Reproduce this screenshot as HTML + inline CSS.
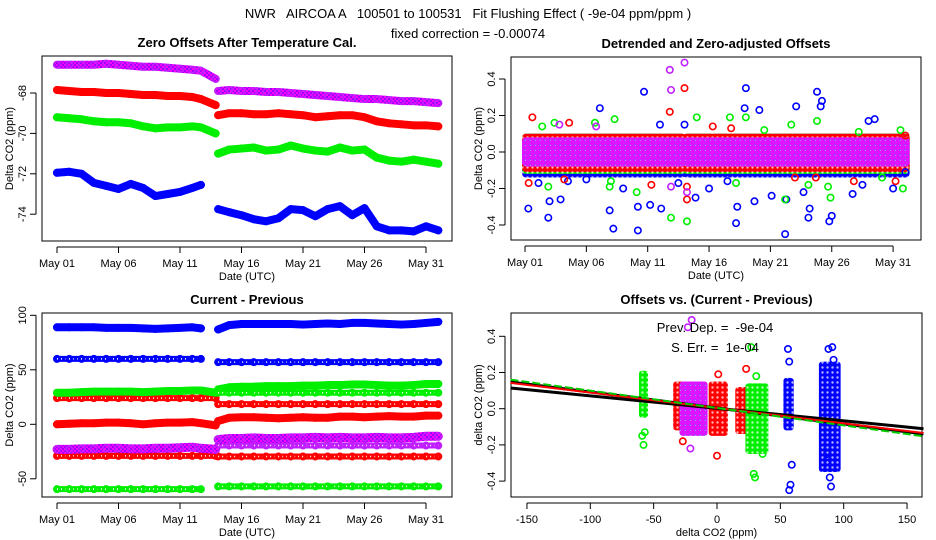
<!DOCTYPE html>
<html><head><meta charset="utf-8"><style>
html,body{margin:0;padding:0;background:#fff;}
svg{display:block;font-family:"Liberation Sans",sans-serif;}
text{white-space:pre;}
</style></head><body>
<svg id="chart" width="936" height="540" viewBox="0 0 936 540" xmlns="http://www.w3.org/2000/svg">
<defs>
<pattern id="purp" width="4" height="4" patternUnits="userSpaceOnUse"><rect width="4" height="4" fill="#a000ff"/><rect width="2" height="2" fill="#ff00ff"/><rect x="2" y="2" width="2" height="2" fill="#ff00ff"/></pattern>
<pattern id="pc-purple" width="5" height="5" patternUnits="userSpaceOnUse"><rect width="5" height="5" fill="#b030ff"/><circle cx="2.5" cy="2.5" r="1.6" fill="none" stroke="#ff00ff" stroke-width="1.2"/><circle cx="0" cy="0" r="1" fill="#fff" opacity="0.5"/></pattern>
<pattern id="pc-red" width="5" height="5" patternUnits="userSpaceOnUse"><rect width="5" height="5" fill="#ff0000"/><circle cx="2.5" cy="2.5" r="1.2" fill="#fff" opacity="0.7"/></pattern>
<pattern id="pc-green" width="5" height="5" patternUnits="userSpaceOnUse"><rect width="5" height="5" fill="#00ee00"/><circle cx="2.5" cy="2.5" r="1.2" fill="#fff" opacity="0.7"/></pattern>
<pattern id="pc-blue" width="5" height="5" patternUnits="userSpaceOnUse"><rect width="5" height="5" fill="#0000ff"/><circle cx="2.5" cy="2.5" r="1.2" fill="#fff" opacity="0.7"/></pattern>
</defs>
<text x="468" y="18" font-size="13" text-anchor="middle">NWR   AIRCOA A   100501 to 100531   Fit Flushing Effect ( -9e-04 ppm/ppm )</text>
<text x="468" y="38" font-size="13" text-anchor="middle">fixed correction = -0.00074</text>
<g id="p1"></g>
<g id="p2"></g>
<g id="p3"></g>
<g id="p4"></g>
</svg>
<script>
// shared day axis (days since May 01); index 14 starts second segment
const days = [0,1,2,3,4,5,6,7,8,9,10,11,11.7,12.9, 13.1,14,15,16,17,18,19,20,21,22,23,24,25,26,27,28,29,30,31];
const dateTicks = [0,5,10,15,20,25,30];
const dateLabels = ["May 01","May 06","May 11","May 16","May 21","May 26","May 31"];
// panel 1: zero offsets
const p1Purple = [-66.6,-66.6,-66.6,-66.6,-66.55,-66.6,-66.65,-66.7,-66.7,-66.75,-66.8,-66.85,-66.9,-67.3, -67.9,-67.85,-67.9,-67.9,-67.95,-67.95,-68.0,-68.05,-68.1,-68.15,-68.2,-68.25,-68.3,-68.3,-68.35,-68.4,-68.4,-68.45,-68.5];
const p1Red = [-67.85,-67.9,-67.95,-67.95,-68.0,-68.0,-68.05,-68.1,-68.1,-68.15,-68.15,-68.2,-68.3,-68.6, -69.1,-69.0,-69.0,-69.05,-69.05,-69.0,-69.05,-69.1,-69.2,-69.15,-69.1,-69.1,-69.2,-69.4,-69.5,-69.55,-69.6,-69.6,-69.65];
const p1Green = [-69.2,-69.25,-69.3,-69.4,-69.45,-69.45,-69.5,-69.65,-69.75,-69.7,-69.7,-69.65,-69.7,-70.0, -71.0,-70.8,-70.75,-70.7,-70.85,-70.8,-70.6,-70.75,-70.85,-70.9,-70.7,-70.85,-70.8,-71.2,-71.35,-71.4,-71.3,-71.4,-71.5];
const p1Blue = [-71.95,-71.9,-72.0,-72.45,-72.6,-72.75,-72.5,-72.7,-73.1,-73.0,-72.9,-72.7,-72.55,null, -73.75,-73.9,-74.05,-74.25,-74.35,-74.2,-73.75,-73.8,-74.1,-73.75,-73.6,-74.05,-73.7,-74.6,-74.8,-74.8,-74.85,-74.6,-74.8];
const p1Ticks = [-74,-72,-70,-68];
// panel 3: current - previous
const p3BlueSolid = [89,89,89,89,88.5,88.5,88.5,88,87.5,88,88.5,89,88,null, 87,91,92,92,92,92,92,91.5,92,92.5,92,93,93,92.5,92,91.5,92,93,94];
const p3BlueHollow = [60,60,60,60,60,60,60,60,60,60,60,60,60,null, 57,57,57,57,57,57,57,57,57,57,57,57,57,57,57,57,57,57,57];
const p3GreenSolid = [29,29,29.5,30,30,30,30,29.5,30,30.5,30.5,31,31,29, 32,34,34.5,34.5,35,35,35,35.5,35.5,36,36,36.5,36.5,36,35.5,35.5,36,37,37];
const p3GreenHollow = [null,null,null,null,null,null,null,null,null,null,null,null,null,null, 29,29,29,29,29,29,29,29,29,29,29,29,29,29,29,29,29,29,29];
const p3GreenLow = [-59.5,-59.5,-59.5,-59.5,-59.5,-59.5,-59.5,-59.5,-59.5,-59.5,-59.5,-59.5,-59.5,null, -57,-57,-57,-57,-57,-57,-57,-57,-57,-57,-57,-57,-57,-57,-57,-57,-57,-57,-57];
const p3RedHollow = [24,24,24,24,24,24,24,24,24,24,24,24,24,24, 18.5,18.5,18.5,18.5,18.5,18.5,18.5,18.5,18.5,18.5,18.5,18.5,18.5,18.5,18.5,18.5,18.5,18.5,18.5];
const p3RedSolid = [0,0.5,1,1,1.5,1.5,1,0,1,1.5,1.5,2,1,-1, 3,6,6.5,6.5,6,5.5,6,6.5,6,6,7,7,6.5,7,7.5,7,7,8,8];
const p3RedLow = [-29,-29,-29,-29,-29,-29,-29,-29,-29,-29,-29,-29,-29,-29, -29.5,-29.5,-29.5,-29.5,-29.5,-29.5,-29.5,-29.5,-29.5,-29.5,-29.5,-29.5,-29.5,-29.5,-29.5,-29.5,-29.5,-29.5,-29.5];
const p3PurpleSolid = [-23,-23,-22.5,-22.5,-22,-22,-22.5,-22.5,-22,-22,-21.5,-21,-22,-23, -14,-13,-13,-12.5,-13,-13,-12.5,-12.5,-12,-12.5,-12,-12.5,-12.5,-12,-12.5,-12.5,-12,-11,-11];
const p3PurpleHollow = [null,null,null,null,null,null,null,null,null,null,null,null,null,null, -19.5,-19.5,-19.5,-19.5,-19.5,-19.5,-19.5,-19.5,-19.5,-19.5,-19.5,-19.5,-19.5,-19.5,-19.5,-19.5,-19.5,-19.5,-19.5];
const p3Ticks = [-50,0,50,100];
// panel 2: detrended residual core bands [lo, hi] and outliers
const p2BandBlue = [-0.14,0.1];
const p2BandGreen = [-0.12,0.1];
const p2BandRed = [-0.11,0.1];
const p2BandPurple = [-0.08,0.08];
const p2BlueDays = [0.27,1.9,2.0,2.9,6.1,7.2,6.9,9.2,9.2,9.7,10.2,11.1,11.0,13.0,13.9,17.2,17.3,18.0,17.9,18.7,19.1,20.1,21.2,21.3,22.1,22.7,23.1,23.2,23.8,24.1,24.2,24.8,25.0,26.7,28.0,28.5,30.0,31.0,1.1,3.5,5.0,8.0,12.5,15.0,16.5,27.5];
const p2BlueVals = [-0.31,-0.36,-0.27,-0.26,0.24,-0.42,-0.32,-0.43,-0.30,0.33,-0.29,-0.31,0.15,0.15,-0.25,-0.39,-0.30,0.35,0.24,-0.27,0.23,-0.24,-0.45,-0.26,0.25,-0.22,-0.36,-0.31,0.33,0.25,0.28,-0.38,-0.35,-0.23,0.17,0.18,-0.20,-0.11,-0.17,-0.16,-0.15,-0.2,-0.17,-0.2,-0.16,-0.18];
const p2GreenDays = [1.4,2.4,5.7,7.3,6.9,9.1,11.9,13.2,14.0,16.7,17.2,18.0,21.2,21.7,23.1,23.8,24.9,24.7,27.2,30.6,30.8,29.1,1.9,7.0,19.5];
const p2GreenVals = [0.14,0.16,0.16,0.18,-0.19,-0.22,-0.36,-0.38,0.19,0.19,-0.17,0.19,-0.26,0.15,-0.18,0.17,-0.25,-0.19,0.11,0.12,-0.2,-0.14,-0.19,-0.16,0.12];
const p2RedDays = [0.6,0.3,3.6,11.8,13.0,13.2,13.2,10.3,15.3,16.8,23.7,26.8,31.0,30.2,3.2,22.0];
const p2RedVals = [0.19,-0.17,0.16,0.22,0.35,-0.26,-0.19,-0.18,0.14,0.13,-0.14,-0.16,0.09,-0.16,-0.15,-0.14];
const p2PurpleDays = [11.8,11.9,13.0,11.9,13.2,2.8,5.8];
const p2PurpleVals = [0.45,0.34,0.49,-0.19,-0.22,0.15,0.14];
const p2Ticks = [-0.4,-0.2,0.0,0.2,0.4];
// panel 4: clusters of (current-previous, offset)
const p4ClusterColors = ["green","red","purple","red","red","green","blue","blue"];
const p4ClusterXlo = [-60,-33,-28,-5,16,24,54,82];
const p4ClusterXhi = [-56,-27,-9,7,24,39,59,96];
const p4ClusterYlo = [-0.05,-0.12,-0.15,-0.15,-0.14,-0.25,-0.12,-0.35];
const p4ClusterYhi = [0.21,0.15,0.15,0.15,0.12,0.14,0.17,0.26];
const p4OutX = [-59,-58,-57,-23,-21,-20,0,1,23,29,30,31,36,56,57,58,57,59,88,91,92,89,90,87,-27,27];
const p4OutY = [-0.15,-0.2,-0.13,0.45,-0.22,0.49,-0.26,0.19,0.22,-0.36,-0.38,0.18,-0.25,0.33,0.26,-0.42,-0.45,-0.31,0.33,0.34,0.27,-0.38,-0.43,-0.25,-0.18,0.34];
const p4OutColors = ["green","green","green","purple","purple","purple","red","red","red","green","green","green","green","blue","blue","blue","blue","blue","blue","blue","blue","blue","blue","blue","red","green"];
const p4XTicks = [-150,-100,-50,0,50,100,150];
const p4YTicks = [-0.4,-0.2,0.0,0.2,0.4];
const fitSlopes = [-0.00088,-0.00069,-0.00085,-0.00096];
const fitIntercepts = [0.004,0.002,0.004,0.004];

const COL = {blue:"#0000ff",green:"#00ee00",red:"#ff0000",purple:"url(#purp)",black:"#000"};
const PAT = {blue:"url(#pc-blue)",green:"url(#pc-green)",red:"url(#pc-red)",purple:"url(#pc-purple)"};
const NS = "http://www.w3.org/2000/svg";
function mk(tag, attrs, parent){const e=document.createElementNS(NS,tag);for(const k in attrs)e.setAttribute(k,attrs[k]);parent.appendChild(e);return e;}
function txt(parent,x,y,s,size,anchor,rot,bold){const e=mk("text",{x:x,y:y,"font-size":size,"text-anchor":anchor||"middle"},parent);if(rot)e.setAttribute("transform","rotate(-90 "+x+" "+y+")");if(bold)e.setAttribute("font-weight","bold");e.textContent=s;return e;}

function frame(g,box,title,xlab,ylab){
  const r=mk("rect",{x:box.x0,y:box.y0,width:box.x1-box.x0,height:box.y1-box.y0,fill:"none",stroke:"#000","stroke-width":1},g);
  
  
  const t=txt(g,(box.x0+box.x1)/2,box.y0-9,title,13,"middle",false,true);
  
  
  const xl=txt(g,(box.x0+box.x1)/2,box.y1+39,xlab,11);
  
  
  const yl=txt(g,box.x0-29,(box.y0+box.y1)/2,ylab,11,"middle",true);
  
  
}
function xaxis(g,box,ticks,labels,sx){
  const L=mk("line",{x1:sx(ticks[0]),x2:sx(ticks[ticks.length-1]),y1:box.y1+6,y2:box.y1+6,stroke:"#000"},g);
  
  
  ticks.forEach((t,i)=>{
    const tk=mk("line",{x1:sx(t),x2:sx(t),y1:box.y1+6,y2:box.y1+12,stroke:"#000"},g);
    
    
    const lb=txt(g,sx(t),box.y1+26,labels[i],11);
    
    
  });
}
function yaxis(g,box,ticks,labels,sy){
  const L=mk("line",{x1:box.x0-6,x2:box.x0-6,y1:sy(ticks[0]),y2:sy(ticks[ticks.length-1]),stroke:"#000"},g);
  
  
  ticks.forEach((t,i)=>{
    const tk=mk("line",{x1:box.x0-12,x2:box.x0-6,y1:sy(t),y2:sy(t),stroke:"#000"},g);
    
    
    const lb=txt(g,box.x0-16,sy(t),labels[i],11,"middle",true);
    
    
  });
}
function segments(vals){const segs=[];let cur=[];vals.forEach((v,i)=>{if(i===14){if(cur.length)segs.push(cur);cur=[];}if(v===null){return;}cur.push([days[i],v]);});if(cur.length)segs.push(cur);return segs;}
function bandSeries(g,vals,sx,sy,color,width,hollow,name){
  segments(vals).forEach(seg=>{
    const pts=seg.map(p=>sx(p[0])+","+sy(p[1])).join(" ");
    const pl=mk("polyline",{points:pts,fill:"none",stroke:color,"stroke-width":width,"stroke-linejoin":"round","stroke-linecap":"round"},g);
    
    
    if(hollow){
      const inner=mk("polyline",{points:pts,fill:"none",stroke:"#fff","stroke-width":1.5,"stroke-dasharray":"1 3"},g);
      
      
    }
    seg.forEach(p=>{
      const c=mk("circle",{cx:sx(p[0]),cy:sy(p[1]),r:3.2,fill:"none",stroke:color==="url(#purp)"?"#c020ff":color,"stroke-width":1.6},g);
      
      
    });
  });
}
function dot(g,x,y,color,name){
  const c=mk("circle",{cx:x,cy:y,r:3.2,fill:"none",stroke:color,"stroke-width":1.6},g);
  
  
}
const fmt1=v=>v.toFixed(1);

// ---------- panel 1 ----------
(function(){
  const g=document.getElementById("p1");
  const box={x0:42,x1:452,y0:56,y1:241};
  const sx=d=>57+d*12.3, sy=v=>93-(v+68)*20.2;
  frame(g,box,"Zero Offsets After Temperature Cal.","Date (UTC)","Delta CO2 (ppm)");
  xaxis(g,box,dateTicks,dateLabels,sx);
  yaxis(g,box,p1Ticks,p1Ticks.map(String),sy);
  bandSeries(g,p1Purple,sx,sy,COL.purple,8,false,"purple-offset-series");
  bandSeries(g,p1Red,sx,sy,COL.red,8,false,"red-offset-series");
  bandSeries(g,p1Green,sx,sy,COL.green,8,false,"green-offset-series");
  bandSeries(g,p1Blue,sx,sy,COL.blue,8,false,"blue-offset-series");
})();

// ---------- panel 3 ----------
(function(){
  const g=document.getElementById("p3");
  const box={x0:42,x1:452,y0:313,y1:497};
  const sx=d=>57+d*12.3, sy=v=>424.3-v*1.09;
  frame(g,box,"Current - Previous","Date (UTC)","Delta CO2 (ppm)");
  xaxis(g,box,dateTicks,dateLabels,sx);
  yaxis(g,box,p3Ticks,p3Ticks.map(String),sy);
  bandSeries(g,p3BlueSolid,sx,sy,COL.blue,8,false,"blue-solid-diff");
  bandSeries(g,p3BlueHollow,sx,sy,COL.blue,6,true,"blue-hollow-diff");
  bandSeries(g,p3RedHollow,sx,sy,COL.red,6,true,"red-upper-diff");
  bandSeries(g,p3GreenSolid,sx,sy,COL.green,8,false,"green-solid-diff");
  bandSeries(g,p3GreenHollow,sx,sy,COL.green,6,true,"green-hollow-diff");
  bandSeries(g,p3GreenLow,sx,sy,COL.green,6,true,"green-low-diff");
  bandSeries(g,p3RedSolid,sx,sy,COL.red,8,false,"red-solid-diff");
  bandSeries(g,p3RedLow,sx,sy,COL.red,6,true,"red-low-diff");
  bandSeries(g,p3PurpleHollow,sx,sy,"#c020ff",6,true,"purple-hollow-diff");
  bandSeries(g,p3PurpleSolid,sx,sy,COL.purple,9,false,"purple-solid-diff");
})();

// ---------- panel 2 ----------
(function(){
  const g=document.getElementById("p2");
  const box={x0:511,x1:921,y0:57,y1:240};
  const sx=d=>525+d*12.27, sy=v=>152-v*182.5;
  frame(g,box,"Detrended and Zero-adjusted Offsets","Date (UTC)","Delta CO2 (ppm)");
  xaxis(g,box,dateTicks,dateLabels,sx);
  yaxis(g,box,p2Ticks,p2Ticks.map(fmt1),sy);
  const bands=[[p2BandBlue,"blue"],[p2BandGreen,"green"],[p2BandRed,"red"],[p2BandPurple,"purple"]];
  bands.forEach(b=>{
    [[0,12.9],[13.1,31.1]].forEach(s=>{
      const r=mk("rect",{x:sx(s[0])-3,y:sy(b[0][1]),width:sx(s[1])-sx(s[0])+6,height:sy(b[0][0])-sy(b[0][1]),fill:PAT[b[1]],rx:4},g);
      
      
    });
  });
  p2BlueDays.forEach((d,i)=>dot(g,sx(d),sy(p2BlueVals[i]),COL.blue,"blue-outlier"));
  p2GreenDays.forEach((d,i)=>dot(g,sx(d),sy(p2GreenVals[i]),COL.green,"green-outlier"));
  p2RedDays.forEach((d,i)=>dot(g,sx(d),sy(p2RedVals[i]),COL.red,"red-outlier"));
  p2PurpleDays.forEach((d,i)=>dot(g,sx(d),sy(p2PurpleVals[i]),"#c020ff","purple-outlier"));
})();

// ---------- panel 4 ----------
(function(){
  const g=document.getElementById("p4");
  const box={x0:511,x1:922,y0:313,y1:497};
  const sx=x=>717+x*1.267, sy=v=>408.7-v*181;
  frame(g,box,"Offsets vs. (Current - Previous)","delta CO2 (ppm)","delta CO2 (ppm)");
  xaxis(g,box,p4XTicks,p4XTicks.map(String),sx);
  yaxis(g,box,p4YTicks,p4YTicks.map(fmt1),sy);
  p4ClusterColors.forEach((c,i)=>{
    const r=mk("rect",{x:sx(p4ClusterXlo[i])-2,y:sy(p4ClusterYhi[i]),width:sx(p4ClusterXhi[i])-sx(p4ClusterXlo[i])+4,height:sy(p4ClusterYlo[i])-sy(p4ClusterYhi[i]),fill:PAT[c],rx:3},g);
    
    
  });
  p4OutX.forEach((x,i)=>dot(g,sx(x),sy(p4OutY[i]),p4OutColors[i]==="purple"?"#c020ff":COL[p4OutColors[i]],"cluster-outlier"));
  const lineCols=["#000","#000","#ff0000","#00cc00"];
  const lineW=[3,3,2,2];
  fitSlopes.forEach((m,i)=>{
    const xa=-163,xb=163;
    const l=mk("line",{x1:sx(xa),y1:sy(fitIntercepts[i]+m*xa),x2:sx(xb),y2:sy(fitIntercepts[i]+m*xb),stroke:lineCols[i],"stroke-width":lineW[i]},g);
    if(i===3)l.setAttribute("stroke-dasharray","8 3");
    
    
  });
  const a=txt(g,715,332,"Prev. Dep. =  -9e-04",13);
  
  
  const b=txt(g,715,352,"S. Err. =  1e-04",13);
  
  
})();
</script>
</body></html>
